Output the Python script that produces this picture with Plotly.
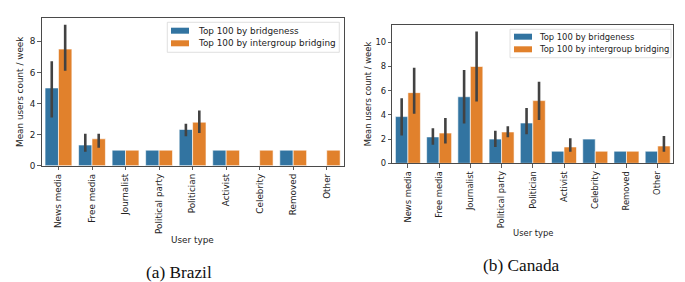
import plotly.graph_objects as go

categories = ["News media", "Free media", "Journalist", "Political party", "Politician",
              "Activist", "Celebrity", "Removed", "Other"]

# Brazil
br_bridg = [5.0, 1.33, 1.0, 1.0, 2.33, 1.0, None, 1.0, None]
br_bridg_lo = [3.1, 0.9, 1.0, 1.0, 1.9, 1.0, None, 1.0, None]
br_bridg_hi = [6.72, 2.05, 1.0, 1.0, 2.7, 1.0, None, 1.0, None]
br_inter = [7.5, 1.73, 1.0, 1.0, 2.8, 1.0, 1.0, 1.0, 1.0]
br_inter_lo = [6.1, 1.15, 1.0, 1.0, 2.1, 1.0, 1.0, 1.0, 1.0]
br_inter_hi = [9.07, 2.05, 1.0, 1.0, 3.55, 1.0, 1.0, 1.0, 1.0]

# Canada
ca_bridg = [3.86, 2.18, 5.5, 2.0, 3.33, 1.0, 2.0, 1.0, 1.0]
ca_bridg_lo = [2.29, 1.54, 3.28, 1.35, 2.4, 1.0, 2.0, 1.0, 1.0]
ca_bridg_hi = [5.37, 2.89, 7.71, 2.7, 4.57, 1.0, 2.0, 1.0, 1.0]
ca_inter = [5.84, 2.5, 8.0, 2.59, 5.18, 1.35, 1.0, 1.0, 1.43]
ca_inter_lo = [4.1, 1.63, 5.1, 2.15, 3.58, 0.95, 1.0, 1.0, 0.95]
ca_inter_hi = [7.9, 3.75, 10.9, 3.06, 6.75, 2.07, 1.0, 1.0, 2.26]

series_names = ["Top 100 by bridgeness", "Top 100 by intergroup bridging"]
colors = ["#3274a1", "#e1812c"]
ERR = "#424242"
W, H = 685, 282
FS_BR = 8.85
FS_CA = 8.4
FS_CAP = 17.3


def err(vals, lo, hi):
    plus = [None if v is None else max(h - v, 0) for v, h in zip(vals, hi)]
    minus = [None if v is None else max(v - l, 0) for v, l in zip(vals, lo)]
    return plus, minus


fig = go.Figure()
panels = [
    ("x", "y", [(br_bridg, br_bridg_lo, br_bridg_hi), (br_inter, br_inter_lo, br_inter_hi)]),
    ("x2", "y2", [(ca_bridg, ca_bridg_lo, ca_bridg_hi), (ca_inter, ca_inter_lo, ca_inter_hi)]),
]
for xa, ya, ser in panels:
    for i, (v, lo, hi) in enumerate(ser):
        p, m = err(v, lo, hi)
        fig.add_trace(go.Bar(
            x=categories, y=v, name=series_names[i], xaxis=xa, yaxis=ya,
            marker=dict(color=colors[i], line=dict(color="white", width=0.6)),
            error_y=dict(type="data", symmetric=False, array=p, arrayminus=m,
                         color=ERR, thickness=2.6, width=0),
            showlegend=False, hoverinfo="skip",
        ))

# panel geometry in pixels
br = dict(x0=41.7, x1=343.5, y0=18.3, y1=165.7)
ca = dict(x0=392.3, x1=673.3, y0=25.0, y1=163.3)


def dom_x(g):
    return [g["x0"] / W, g["x1"] / W]


def dom_y(g):
    return [1 - g["y1"] / H, 1 - g["y0"] / H]


def axis_common(fs):
    return dict(
        showline=True, linecolor="#4a4a4a", linewidth=1, mirror=True,
        ticks="outside", ticklen=3.5, tickwidth=0.8, tickcolor="#333",
        showgrid=False, zeroline=False, automargin=False, fixedrange=True,
        tickfont=dict(family="DejaVu Sans", size=fs, color="#222"),
    )


fig.update_layout(
    template="none",
    width=W, height=H, margin=dict(l=0, r=0, t=0, b=0, pad=0, autoexpand=False),
    paper_bgcolor="white", plot_bgcolor="white",
    barmode="group", bargap=0.2, bargroupgap=0,
    xaxis=dict(domain=dom_x(br), anchor="y", range=[-0.5, 8.5], tickangle=-90, **axis_common(FS_BR)),
    yaxis=dict(domain=dom_y(br), anchor="x", range=[0, 9.48], tickvals=[0, 2, 4, 6, 8], **axis_common(FS_BR)),
    xaxis2=dict(domain=dom_x(ca), anchor="y2", range=[-0.5, 8.5], tickangle=-90, **axis_common(FS_CA)),
    yaxis2=dict(domain=dom_y(ca), anchor="x2", range=[0, 11.43], tickvals=[0, 2, 4, 6, 8, 10], **axis_common(FS_CA)),
)

shapes = []
annotations = []


def fnt(fs):
    return dict(family="DejaVu Sans", size=fs, color="#222")


def px(x):
    return x / W


def py(y):
    return 1 - y / H


def legend(box, rows_y, sw_x0, sw_x1, text_x, fs):
    shapes.append(dict(type="rect", xref="paper", yref="paper",
                       x0=px(box[0]), x1=px(box[2]), y0=py(box[3]), y1=py(box[1]),
                       line=dict(color="#d8d8d8", width=0.8), fillcolor="rgba(255,255,255,0.8)"))
    for i, ry in enumerate(rows_y):
        shapes.append(dict(type="rect", xref="paper", yref="paper",
                           x0=px(sw_x0), x1=px(sw_x1), y0=py(ry + 3), y1=py(ry - 3),
                           line=dict(width=0), fillcolor=colors[i]))
        annotations.append(dict(xref="paper", yref="paper", x=px(text_x), y=py(ry),
                                text=series_names[i], showarrow=False, xanchor="left",
                                yanchor="middle", font=fnt(fs)))


legend((167.3, 22.3, 339.3, 52.3), [30.7, 43.3], 171, 189, 196.2, FS_BR)
legend((510, 29.3, 671, 57.7), [36.7, 49.3], 514, 532, 537.3, FS_CA)

# axis titles
annotations += [
    dict(xref="paper", yref="paper", x=px(192.3), y=py(240), text="User type",
         showarrow=False, font=fnt(FS_BR), xanchor="center", yanchor="middle"),
    dict(xref="paper", yref="paper", x=px(532.8), y=py(232.7), text="User type",
         showarrow=False, font=fnt(FS_CA), xanchor="center", yanchor="middle"),
    dict(xref="paper", yref="paper", x=px(20), y=py(92), text="Mean users count / week",
         showarrow=False, font=fnt(FS_BR), textangle=-90, xanchor="center", yanchor="middle"),
    dict(xref="paper", yref="paper", x=px(368.3), y=py(94), text="Mean users count / week",
         showarrow=False, font=fnt(FS_CA), textangle=-90, xanchor="center", yanchor="middle"),
    dict(xref="paper", yref="paper", x=px(178.7), y=py(272), text="(a) Brazil",
         showarrow=False, font=dict(family="Liberation Serif", size=FS_CAP, color="#111"),
         xanchor="center", yanchor="middle"),
    dict(xref="paper", yref="paper", x=px(521.3), y=py(265.3), text="(b) Canada",
         showarrow=False, font=dict(family="Liberation Serif", size=FS_CAP, color="#111"),
         xanchor="center", yanchor="middle"),
]

fig.update_layout(shapes=shapes, annotations=annotations, hovermode=False)
fig.write_html("out.html", config={"displayModeBar": False, "staticPlot": True},
               post_script="document.body.style.margin='0px';document.body.style.padding='0px';")
